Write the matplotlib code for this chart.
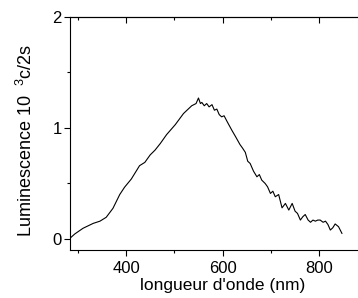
import matplotlib
matplotlib.use("Agg")
import matplotlib.pyplot as plt
from matplotlib.ticker import MultipleLocator

# spectre de luminescence
longueur = [285, 294, 311, 332, 346, 359, 373, 387, 397, 411, 428, 439, 450, 460,
            471, 484, 502, 519, 536, 545, 550, 554, 557, 562, 567, 572, 578, 583,
            588, 593, 598, 603, 609, 614, 619, 627, 636, 641, 647, 652, 657, 664,
            671, 676, 681, 688, 693, 699, 704, 709, 716, 723, 730, 737, 744, 750,
            755, 761, 766, 771, 777, 782, 787, 792, 797, 802, 808, 813, 818, 823,
            828, 833, 840, 847]
lumin = [0.01, 0.045, 0.096, 0.14, 0.16, 0.195, 0.276, 0.40, 0.466, 0.54, 0.66, 0.69,
         0.757, 0.80, 0.86, 0.94, 1.03, 1.13, 1.20, 1.22, 1.27, 1.22, 1.23, 1.20, 1.22,
         1.19, 1.21, 1.16, 1.17, 1.12, 1.10, 1.11, 1.06, 1.02, 0.98, 0.92, 0.85, 0.82,
         0.78, 0.70, 0.68, 0.61, 0.56, 0.58, 0.53, 0.50, 0.47, 0.41, 0.43, 0.38, 0.40,
         0.28, 0.32, 0.26, 0.32, 0.25, 0.23, 0.17, 0.20, 0.22, 0.17, 0.15, 0.17, 0.16,
         0.17, 0.17, 0.15, 0.16, 0.13, 0.08, 0.10, 0.135, 0.11, 0.05]

xticks = [400, 600, 800]
yticks = [0, 1, 2]

plt.rcParams['font.family'] = ['Liberation Sans', 'DejaVu Sans']
plt.rcParams['font.size'] = 12
plt.rcParams['mathtext.fontset'] = 'custom'
plt.rcParams['mathtext.rm'] = 'Liberation Sans'

fig = plt.figure(figsize=(3.58, 2.98), dpi=100)
ax = fig.add_axes([0.1955, 0.161, 0.85, 0.782])
ax.plot(longueur, lumin, color='k', lw=0.8)

ax.set_xlim(284, 914)
ax.set_ylim(-0.1, 2.0)
ax.set_xticks(xticks)
ax.set_yticks(yticks)
ax.xaxis.set_minor_locator(MultipleLocator(100))
ax.yaxis.set_minor_locator(MultipleLocator(0.5))
ax.tick_params(which='major', length=4, width=0.8, pad=2)
ax.tick_params(axis='x', which='major', pad=4)
ax.tick_params(which='minor', length=2, width=0.8)
ax.spines['right'].set_visible(False)
for s in ['left', 'bottom', 'top']:
    ax.spines[s].set_linewidth(0.8)

top = ax.secondary_xaxis('top')
top.set_xticks(xticks)
top.xaxis.set_minor_locator(MultipleLocator(100))
top.tick_params(which='both', direction='in', labeltop=False, width=0.8)
top.tick_params(which='major', length=4)
top.tick_params(which='minor', length=2)

ax.set_xlabel("longueur d'onde (nm)", labelpad=1, fontsize=12.5)
fig.text(26 / 358, 1 - 140 / 298, "Luminescence 10  $\\mathregular{^{3}}$c/2s",
         rotation=90, ha='center', va='center', fontsize=13)

fig.savefig("out.png", dpi=100)
